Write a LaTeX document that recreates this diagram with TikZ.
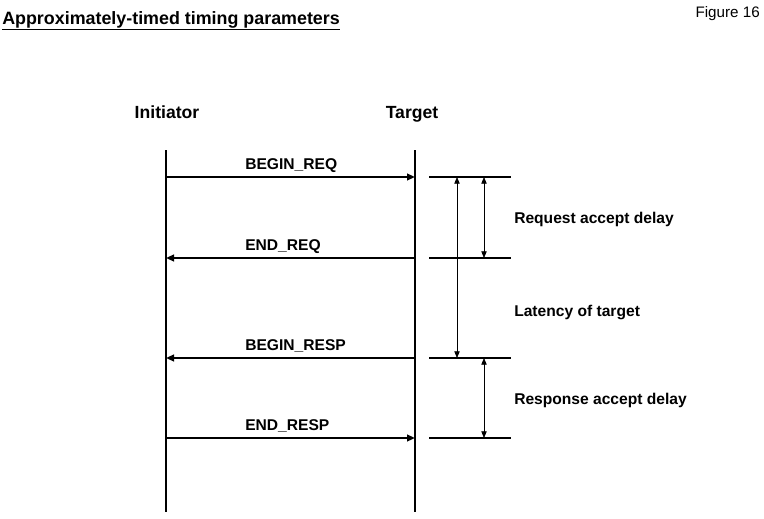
\documentclass[tikz,border=0pt]{standalone}
\usepackage{fontspec}
\setmainfont{Liberation Sans}
\usetikzlibrary{arrows.meta}

\begin{document}
\begin{tikzpicture}[x=0.75pt, y=-0.75pt,
  lbl/.style={font=\fontsize{11.7}{14}\selectfont\bfseries, inner sep=0pt},
  head/.style={font=\fontsize{13.2}{16}\selectfont\bfseries, inner sep=0pt, anchor=base},
  msg/.style={line width=1.5pt, -{Triangle[length=6pt,width=5pt]}},
  life/.style={line width=2.2pt},
  tick/.style={line width=0.8pt},
  dim/.style={line width=0.6pt, {Triangle[length=5pt,width=4pt]}-{Triangle[length=5pt,width=4pt]}}]

\useasboundingbox (0,0) rectangle (764,518);

% headings
\node[anchor=base west, inner sep=0pt, font=\fontsize{13.4}{16}\selectfont\bfseries] (title) at (2,24) {\underline{Approximately-timed timing parameters}};
\node[anchor=base east, inner sep=0pt, font=\fontsize{11.4}{13}\selectfont] (fig) at (760,17) {Figure 16};

\node[head] (ini) at (167,118) {Initiator};
\node[head] (tgt) at (412,118) {Target};

% lifelines
\coordinate (I0) at (166,150);
\coordinate (I1) at (166,512);
\coordinate (T0) at (415,150);
\coordinate (T1) at (415,512);
\draw[life] (I0) -- (I1);
\draw[life] (T0) -- (T1);

% message points
\coordinate (i1) at (166,177); \coordinate (t1) at (415,177);
\coordinate (i2) at (166,258); \coordinate (t2) at (415,258);
\coordinate (i3) at (166,358); \coordinate (t3) at (415,358);
\coordinate (i4) at (166,438); \coordinate (t4) at (415,438);

\draw[msg] (i1) -- (t1);
\draw[msg] (t2) -- (i2);
\draw[msg] (t3) -- (i3);
\draw[msg] (i4) -- (t4);

\node[lbl, anchor=base west] (m1) at (245,169) {BEGIN\_REQ};
\node[lbl, anchor=base west] (m2) at (245,250) {END\_REQ};
\node[lbl, anchor=base west] (m3) at (245,350) {BEGIN\_RESP};
\node[lbl, anchor=base west] (m4) at (245,430) {END\_RESP};

% timing marks
\coordinate (a1) at (429,177); \coordinate (b1) at (511,177);
\coordinate (a2) at (429,258); \coordinate (b2) at (511,258);
\coordinate (a3) at (429,358); \coordinate (b3) at (511,358);
\coordinate (a4) at (429,438); \coordinate (b4) at (511,438);
\draw[tick] (a1) -- (b1);
\draw[tick] (a2) -- (b2);
\draw[tick] (a3) -- (b3);
\draw[tick] (a4) -- (b4);

\coordinate (L1) at (457,177); \coordinate (L2) at (457,358);
\coordinate (R1) at (484,177); \coordinate (R2) at (484,258);
\coordinate (S1) at (484,358); \coordinate (S2) at (484,438);
\draw[dim] (L1) -- (L2);
\draw[dim] (R1) -- (R2);
\draw[dim] (S1) -- (S2);

\node[lbl, anchor=base west] (req) at (514,223) {Request accept delay};
\node[lbl, anchor=base west] (lat) at (514,316) {Latency of target};
\node[lbl, anchor=base west] (rsp) at (514,404) {Response accept delay};

\end{tikzpicture}
\end{document}
